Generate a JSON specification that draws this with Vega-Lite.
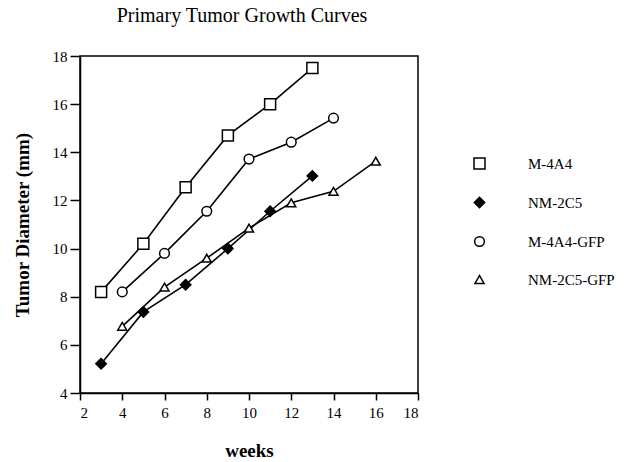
{
  "$schema": "https://vega.github.io/schema/vega-lite/v6.json",
  "width": 338,
  "height": 337,
  "autosize": "none",
  "padding": {"left": 80, "top": 56, "right": 210, "bottom": 69},
  "background": "white",
  "title": {"text": "Primary Tumor Growth Curves", "fontSize": 20, "fontWeight": "normal", "font": "Liberation Serif", "color": "black", "offset": 23, "dx": -7},
  "config": {
    "font": "Liberation Serif",
    "view": {"stroke": "black", "strokeWidth": 1.5},
    "axis": {"domainColor": "black", "domainWidth": 1.5, "tickColor": "black", "tickWidth": 1.5, "labelFontSize": 15, "labelColor": "black", "labelFont": "Liberation Serif", "grid": false, "titleFontSize": 19, "titleFontWeight": "bold", "titleColor": "black", "titleFont": "Liberation Serif"},
    "legend": {"labelFont": "Liberation Serif", "labelFontSize": 15, "labelColor": "black"}
  },
  "data": {"values": [
    {"series": "M-4A4", "week": 3, "diameter": 8.2},
    {"series": "M-4A4", "week": 5, "diameter": 10.2},
    {"series": "M-4A4", "week": 7, "diameter": 12.55},
    {"series": "M-4A4", "week": 9, "diameter": 14.7},
    {"series": "M-4A4", "week": 11, "diameter": 16.0},
    {"series": "M-4A4", "week": 13, "diameter": 17.5},
    {"series": "NM-2C5", "week": 3, "diameter": 5.22},
    {"series": "NM-2C5", "week": 5, "diameter": 7.37},
    {"series": "NM-2C5", "week": 7, "diameter": 8.5},
    {"series": "NM-2C5", "week": 9, "diameter": 10.0},
    {"series": "NM-2C5", "week": 11, "diameter": 11.55},
    {"series": "NM-2C5", "week": 13, "diameter": 13.02},
    {"series": "M-4A4-GFP", "week": 4, "diameter": 8.2},
    {"series": "M-4A4-GFP", "week": 6, "diameter": 9.8},
    {"series": "M-4A4-GFP", "week": 8, "diameter": 11.55},
    {"series": "M-4A4-GFP", "week": 10, "diameter": 13.72},
    {"series": "M-4A4-GFP", "week": 12, "diameter": 14.42},
    {"series": "M-4A4-GFP", "week": 14, "diameter": 15.42},
    {"series": "NM-2C5-GFP", "week": 4, "diameter": 6.77},
    {"series": "NM-2C5-GFP", "week": 6, "diameter": 8.4},
    {"series": "NM-2C5-GFP", "week": 8, "diameter": 9.6},
    {"series": "NM-2C5-GFP", "week": 10, "diameter": 10.85},
    {"series": "NM-2C5-GFP", "week": 12, "diameter": 11.9},
    {"series": "NM-2C5-GFP", "week": 14, "diameter": 12.38},
    {"series": "NM-2C5-GFP", "week": 16, "diameter": 13.63}
  ]},
  "encoding": {
    "x": {"field": "week", "type": "quantitative", "scale": {"domain": [2, 18], "nice": false}, "axis": {"values": [2, 4, 6, 8, 10, 12, 14, 16, 18], "title": "weeks", "titlePadding": 21, "tickSize": 7, "labelPadding": 5}},
    "y": {"field": "diameter", "type": "quantitative", "scale": {"domain": [4, 18], "nice": false, "zero": false}, "axis": {"values": [4, 6, 8, 10, 12, 14, 16, 18], "title": "Tumor Diameter (mm)", "titlePadding": 20, "tickSize": 10, "labelPadding": 3}}
  },
  "layer": [
    {
      "mark": {"type": "line", "color": "black", "strokeWidth": 1.6},
      "encoding": {"detail": {"field": "series", "type": "nominal"}}
    },
    {
      "mark": {"type": "point", "filled": true, "stroke": "black", "strokeWidth": 1.5, "opacity": 1},
      "encoding": {
        "shape": {
          "field": "series", "type": "nominal",
          "scale": {"domain": ["M-4A4", "NM-2C5", "M-4A4-GFP", "NM-2C5-GFP"], "range": ["square", "diamond", "circle", "triangle-up"]},
          "legend": {
            "title": null, "orient": "none", "legendX": 392, "legendY": 100, "padding": 0, "symbolSize": 100, "symbolStrokeWidth": 1.5, "labelOffset": 41, "rowPadding": 22,
            "encode": {"symbols": {
              "shape": {"signal": "datum.value == 'M-4A4' ? 'M-6.7,0H-1M1,0H6.7M-1,-1H1V1H-1Z' : datum.value == 'NM-2C5' ? 'M-6.7,0H-1M1,0H6.7M0,-1L1,0L0,1L-1,0Z' : datum.value == 'M-4A4-GFP' ? 'M-6.7,0H-1M1,0H6.7M-1,0A1,1,0,1,1,1,0A1,1,0,1,1,-1,0Z' : 'M-6.7,0H-0.56M0.56,0H6.7M0,-1L1,0.8L-1,0.8Z'"},
              "fill": {"signal": "datum.value == 'NM-2C5' ? 'black' : 'white'"},
              "stroke": {"value": "black"}, "strokeWidth": {"value": 1.5}, "opacity": {"value": 1}, "size": {"value": 100}
            }}
          }
        },
        "fill": {
          "field": "series", "type": "nominal",
          "scale": {"domain": ["M-4A4", "NM-2C5", "M-4A4-GFP", "NM-2C5-GFP"], "range": ["white", "black", "white", "white"]},
          "legend": {
            "title": null, "orient": "none", "legendX": 392, "legendY": 100, "padding": 0, "symbolSize": 100, "symbolStrokeWidth": 1.5, "labelOffset": 41, "rowPadding": 22,
            "encode": {"symbols": {
              "shape": {"signal": "datum.value == 'M-4A4' ? 'M-6.7,0H-1M1,0H6.7M-1,-1H1V1H-1Z' : datum.value == 'NM-2C5' ? 'M-6.7,0H-1M1,0H6.7M0,-1L1,0L0,1L-1,0Z' : datum.value == 'M-4A4-GFP' ? 'M-6.7,0H-1M1,0H6.7M-1,0A1,1,0,1,1,1,0A1,1,0,1,1,-1,0Z' : 'M-6.7,0H-0.56M0.56,0H6.7M0,-1L1,0.8L-1,0.8Z'"},
              "fill": {"signal": "datum.value == 'NM-2C5' ? 'black' : 'white'"},
              "stroke": {"value": "black"}, "strokeWidth": {"value": 1.5}, "opacity": {"value": 1}, "size": {"value": 100}
            }}
          }
        },
        "size": {
          "field": "series", "type": "nominal",
          "scale": {"domain": ["M-4A4", "NM-2C5", "M-4A4-GFP", "NM-2C5-GFP"], "range": [121, 81, 121, 144]},
          "legend": {
            "title": null, "orient": "none", "legendX": 392, "legendY": 100, "padding": 0, "symbolSize": 100, "symbolStrokeWidth": 1.5, "labelOffset": 41, "rowPadding": 22,
            "encode": {"symbols": {
              "shape": {"signal": "datum.value == 'M-4A4' ? 'M-6.7,0H-1M1,0H6.7M-1,-1H1V1H-1Z' : datum.value == 'NM-2C5' ? 'M-6.7,0H-1M1,0H6.7M0,-1L1,0L0,1L-1,0Z' : datum.value == 'M-4A4-GFP' ? 'M-6.7,0H-1M1,0H6.7M-1,0A1,1,0,1,1,1,0A1,1,0,1,1,-1,0Z' : 'M-6.7,0H-0.56M0.56,0H6.7M0,-1L1,0.8L-1,0.8Z'"},
              "fill": {"signal": "datum.value == 'NM-2C5' ? 'black' : 'white'"},
              "stroke": {"value": "black"}, "strokeWidth": {"value": 1.5}, "opacity": {"value": 1}, "size": {"value": 100}
            }}
          }
        }
      }
    }
  ]
}
